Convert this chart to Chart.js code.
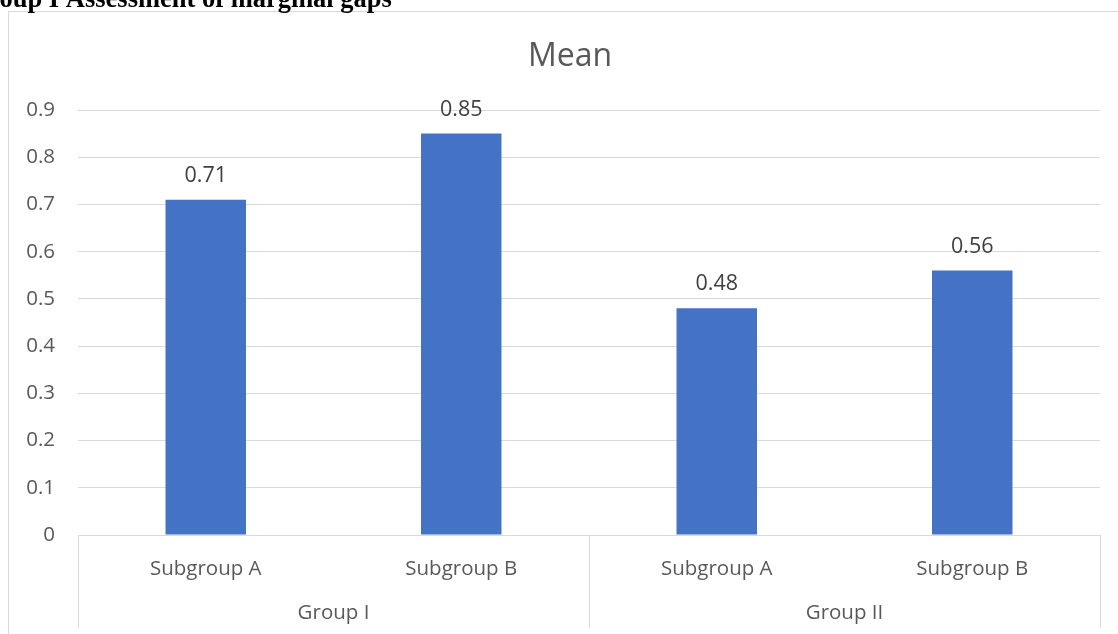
<!DOCTYPE html>
<html>
<head>
<meta charset="utf-8">
<script src="https://cdn.jsdelivr.net/npm/chart.js@4/dist/chart.umd.min.js"></script>
<style>
  html, body { margin: 0; padding: 0; background: #ffffff; overflow: hidden; }
  #wrap { position: absolute; left: 0; top: 0; width: 1118px; height: 634px; }
</style>
</head>
<body>
<div id="wrap"><canvas id="chart" width="1118" height="634"></canvas></div>
<script>
// Chart data
const subgroups = ['Subgroup A', 'Subgroup B', 'Subgroup A', 'Subgroup B'];
const groups = ['Group I', 'Group II'];
const groupSizes = [2, 2];
const meanValues = [0.71, 0.85, 0.48, 0.56];
const yTicks = [0, 0.1, 0.2, 0.3, 0.4, 0.5, 0.6, 0.7, 0.8, 0.9];

const chartTitle = 'Mean';
const headingText = 'Group I Assessment of marginal gaps';

const FONT = '"Open Sans", "Noto Sans", sans-serif';
const GRID = '#d9d9d9';
const TEXT = '#595959';

// Page heading, outer chart frame and title
const framePlugin = {
  id: 'frame',
  beforeDraw(chart) {
    const ctx = chart.ctx;
    ctx.save();
    ctx.fillStyle = '#ffffff';
    ctx.fillRect(0, 0, chart.width, chart.height);
    ctx.strokeStyle = GRID;
    ctx.lineWidth = 1;
    ctx.strokeRect(8.5, 11.5, 3000, 3000);

    ctx.fillStyle = '#000000';
    ctx.font = 'bold 26.5px "Liberation Serif", "Times New Roman", serif';
    ctx.textBaseline = 'alphabetic';
    ctx.textAlign = 'left';
    const lead = ctx.measureText('Gr').width;
    ctx.fillText(headingText, -lead, 7);

    ctx.fillStyle = TEXT;
    ctx.font = '32px ' + FONT;
    ctx.textAlign = 'center';
    ctx.textBaseline = 'middle';
    ctx.fillText(chartTitle, 570, 57);
    ctx.restore();
  }
};

// Category separators, group labels and value labels
const extrasPlugin = {
  id: 'extras',
  afterDraw(chart) {
    const ctx = chart.ctx;
    const x = chart.scales.x;
    const area = chart.chartArea;
    const step = (x.right - x.left) / subgroups.length;
    ctx.save();
    ctx.strokeStyle = GRID;
    ctx.lineWidth = 1;

    // group boundaries
    let idx = 0;
    const bounds = [0];
    groupSizes.forEach(n => { idx += n; bounds.push(idx); });
    bounds.forEach(b => {
      const px = Math.round(x.left + b * step) + 0.5;
      ctx.beginPath();
      ctx.moveTo(px, area.bottom);
      ctx.lineTo(px, 628);
      ctx.stroke();
    });

    // group labels
    ctx.fillStyle = TEXT;
    ctx.font = '20.5px ' + FONT;
    ctx.textAlign = 'center';
    ctx.textBaseline = 'middle';
    groups.forEach((g, i) => {
      const cx = x.left + (bounds[i] + bounds[i + 1]) / 2 * step;
      ctx.fillText(g, cx, 613);
    });

    // value labels above bars
    ctx.fillStyle = '#404040';
    ctx.font = '21.5px ' + FONT;
    ctx.textBaseline = 'alphabetic';
    const meta = chart.getDatasetMeta(0);
    meta.data.forEach((bar, i) => {
      ctx.fillText(String(meanValues[i]), bar.x, bar.y - 18);
    });
    ctx.restore();
  }
};

new Chart(document.getElementById('chart'), {
  type: 'bar',
  data: {
    labels: subgroups,
    datasets: [{
      label: chartTitle,
      data: meanValues,
      backgroundColor: '#4472c4',
      borderWidth: 0,
      barPercentage: 0.63,
      categoryPercentage: 0.5
    }]
  },
  options: {
    responsive: false,
    animation: false,
    devicePixelRatio: 1,
    layout: { padding: { top: 110, right: 18, left: 0, bottom: 0 } },
    plugins: {
      legend: { display: false },
      title: { display: false },
      tooltip: { enabled: false }
    },
    scales: {
      y: {
        min: 0,
        max: 0.9,
        afterBuildTicks(scale) { scale.ticks = yTicks.map(v => ({ value: v })); },
        afterFit(scale) { scale.width = 78; },
        ticks: {
          padding: 23,
          color: TEXT,
          font: { family: FONT, size: 20.5 },
          callback: v => String(Math.round(v * 10) / 10)
        },
        grid: { color: GRID, lineWidth: 1, drawTicks: false },
        border: { display: false }
      },
      x: {
        afterFit(scale) { scale.height = 99; },
        ticks: {
          padding: 14,
          color: TEXT,
          font: { family: FONT, size: 20.5 },
          maxRotation: 0,
          autoSkip: false
        },
        grid: { display: false },
        border: { display: true, color: GRID, width: 1 }
      }
    }
  },
  plugins: [framePlugin, extrasPlugin]
});
</script>
</body>
</html>
